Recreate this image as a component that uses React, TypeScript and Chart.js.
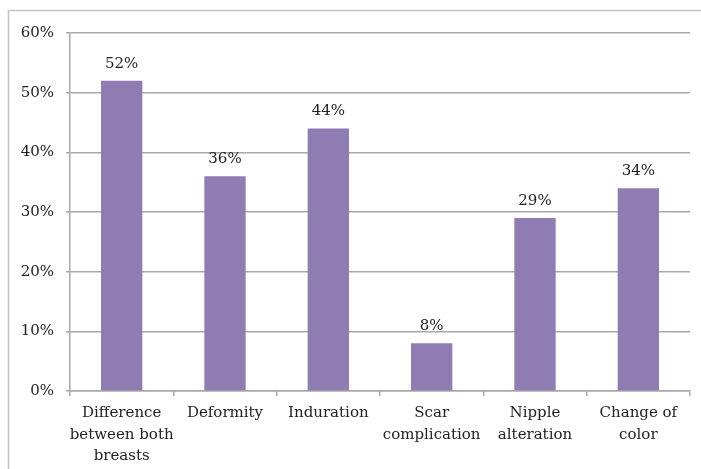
import React, { useEffect, useRef } from "react";
import { Chart, registerables } from "chart.js";

Chart.register(...registerables);

const categories: (string | string[])[] = [
  ["Difference", "between both", "breasts"],
  "Deformity",
  "Induration",
  ["Scar", "complication"],
  ["Nipple", "alteration"],
  ["Change of", "color"],
];
const values: number[] = [52, 36, 44, 8, 29, 34];
const yTicks: number[] = [0, 10, 20, 30, 40, 50, 60];

const FONT = "'DejaVu Serif', serif";
const TEXT = "#222222";

const borderPlugin = {
  id: "outerBorder",
  beforeDraw(chart: any) {
    const ctx = chart.ctx;
    ctx.save();
    ctx.strokeStyle = "#c4c4c4";
    ctx.lineWidth = 1.5;
    ctx.beginPath();
    ctx.moveTo(701, 10.5);
    ctx.lineTo(8.5, 10.5);
    ctx.lineTo(8.5, 469);
    ctx.stroke();
    ctx.restore();
  },
};

const valueLabels = {
  id: "valueLabels",
  afterDatasetsDraw(chart: any) {
    const ctx = chart.ctx;
    const meta = chart.getDatasetMeta(0);
    ctx.save();
    ctx.fillStyle = TEXT;
    ctx.font = `15px ${FONT}`;
    ctx.textAlign = "center";
    ctx.textBaseline = "middle";
    meta.data.forEach((bar: any, i: number) => {
      ctx.fillText(values[i] + "%", bar.x, bar.y - 17);
    });
    ctx.restore();
  },
};

export default function App() {
  const ref = useRef<HTMLCanvasElement>(null);
  useEffect(() => {
    if (!ref.current) return;
    const chart = new Chart(ref.current, {
      type: "bar",
      data: {
        labels: categories,
        datasets: [
          {
            data: values,
            backgroundColor: "#8f7cb3",
            borderWidth: 0,
            barPercentage: 0.4,
            categoryPercentage: 1,
          },
        ],
      },
      options: {
        responsive: false,
        animation: false,
        devicePixelRatio: 1,
        layout: { padding: { top: 33, right: 11, left: 0, bottom: 0 } },
        plugins: {
          legend: { display: false },
          tooltip: { enabled: false },
        },
        scales: {
          x: {
            offset: true,
            grid: {
              offset: true,
              drawOnChartArea: false,
              drawTicks: true,
              tickLength: 5,
              color: "#a8a8a8",
              lineWidth: 1.5,
            },
            border: { color: "#a8a8a8", width: 1.5 },
            ticks: {
              color: TEXT,
              font: { family: FONT, size: 15, lineHeight: 1.45 },
              maxRotation: 0,
              minRotation: 0,
              autoSkip: false,
              padding: 6,
            },
            afterFit(scale: any) {
              scale.height = 78;
            },
          },
          y: {
            min: 0,
            max: 60,
            afterBuildTicks(scale: any) {
              scale.ticks = yTicks.map((v) => ({ value: v }));
            },
            grid: {
              color: "#a8a8a8",
              lineWidth: 1.5,
              tickLength: 4,
            },
            border: { color: "#a8a8a8", width: 1.5 },
            ticks: {
              color: TEXT,
              font: { family: FONT, size: 15 },
              padding: 12,
              callback: (v: any) => v + "%",
            },
            afterFit(scale: any) {
              scale.width = 70;
            },
          },
        },
      },
      plugins: [borderPlugin, valueLabels],
    });
    return () => chart.destroy();
  }, []);
  return (
    <div style={{ position: "fixed", left: 0, top: 0, width: 701, height: 469, background: "#fff" }}>
      <canvas ref={ref} width={701} height={469} style={{ display: "block" }} />
    </div>
  );
}
